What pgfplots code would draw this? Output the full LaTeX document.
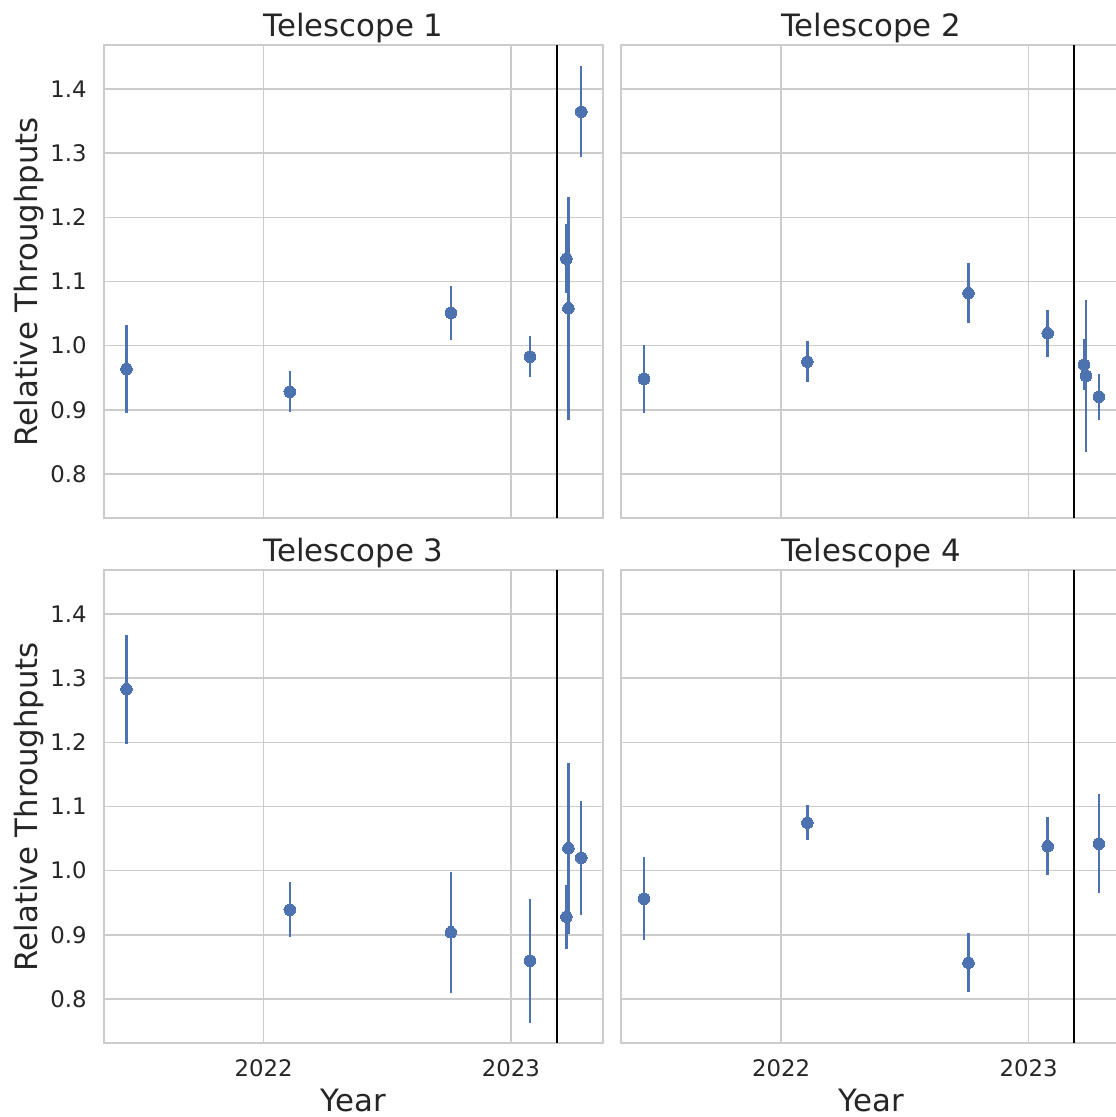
\documentclass[border=0pt]{standalone}
\usepackage{fontspec}
\setmainfont{DejaVu Sans}
\usepackage{pgfplots}
\usepackage{pgfplotstable}
\pgfplotsset{compat=1.18}
\definecolor{sbblue}{HTML}{4C72B0}
\definecolor{txt}{HTML}{262626}
\definecolor{grd}{HTML}{CCCCCC}
\newcommand\ticksize{\fontsize{11.4}{13}\selectfont}
\newcommand\labsize{\fontsize{15.4}{18}\selectfont}

\pgfplotstableread{
x y e
2021.446 0.9635 0.069
2022.106 0.9281 0.032
2022.757 1.0508 0.042
2023.077 0.9827 0.032
2023.224 1.1355 0.054
2023.232 1.0581 0.174
2023.284 1.3646 0.071
}\tone
\pgfplotstableread{
x y e
2021.446 0.9480 0.053
2022.106 0.9750 0.032
2022.757 1.0815 0.047
2023.077 1.0192 0.037
2023.224 0.9702 0.040
2023.232 0.9526 0.118
2023.284 0.9203 0.036
}\ttwo
\pgfplotstableread{
x y e
2021.446 1.2826 0.085
2022.106 0.9390 0.043
2022.757 0.9038 0.094
2023.077 0.8595 0.097
2023.224 0.9281 0.050
2023.232 1.0348 0.1335
2023.284 1.0201 0.089
}\tthree
\pgfplotstableread{
x y e
2021.446 0.9562 0.065
2022.106 1.0747 0.0275
2022.757 0.8564 0.046
2023.077 1.0379 0.0455
2023.284 1.0419 0.0775
}\tfour

\pgfplotsset{
  every axis title shift=0pt,
  panel/.style={
    width=249.8pt, height=236.35pt, scale only axis,
    anchor=south west,
    xmin=2021.354, xmax=2023.373, ymin=0.7313, ymax=1.4681,
    xtick={2022,2023}, ytick={0.8,0.9,1.0,1.1,1.2,1.3,1.4},
    xticklabels={,}, yticklabels={,,,,,,},
    grid=major, major grid style={grd, line width=0.75pt},
    axis line style={grd, line width=0.9pt},
    major tick length=0pt, tick style={draw=none},
    tick label style={font=\ticksize, text=txt, inner sep=0pt},
    yticklabel style={anchor=east, xshift=-8.3pt},
    xticklabel style={anchor=north, yshift=-7.9pt},
    /pgf/number format/assume math mode=true,
    title style={font=\labsize, text=txt, at={(axis description cs:0.5,1.0178)}, anchor=base, inner sep=0pt},
    xlabel style={font=\labsize, text=txt, at={(axis description cs:0.5,-0.1442)}, anchor=base, inner sep=0pt},
    ylabel style={font=\labsize, text=txt, at={(axis description cs:-0.1335,0.5)}, anchor=base, inner sep=0pt},
    clip=true,
  },
  leftp/.style={yticklabels={0.8,0.9,1.0,1.1,1.2,1.3,1.4}, ylabel={Relative Throughputs}},
  bottomp/.style={xticklabels={2022,2023}, xlabel={Year}},
  pts/.style={only marks, mark=*, mark size=2.9pt, color=sbblue,
    mark options={fill=sbblue, draw=sbblue, line width=0pt},
    error bars/.cd, y dir=both, y explicit, error mark=none,
    error bar style={line width=1.2pt, sbblue}},
  vl/.style={black, line width=0.9pt, no marks},
}

\begin{document}
\begin{tikzpicture}
\useasboundingbox (0,0) rectangle (557.5pt,558.5pt);
\begin{axis}[panel, leftp, at={(51.85pt,299.5pt)}, title={Telescope 1}]
  \addplot[vl] coordinates {(2023.185,0.7) (2023.185,1.5)};
  \addplot[pts] table[x=x, y=y, y error=e] {\tone};
\end{axis}
\begin{axis}[panel, at={(310.65pt,299.5pt)}, title={Telescope 2}]
  \addplot[vl] coordinates {(2023.185,0.7) (2023.185,1.5)};
  \addplot[pts] table[x=x, y=y, y error=e] {\ttwo};
\end{axis}
\begin{axis}[panel, leftp, bottomp, at={(51.85pt,37pt)}, title={Telescope 3}]
  \addplot[vl] coordinates {(2023.185,0.7) (2023.185,1.5)};
  \addplot[pts] table[x=x, y=y, y error=e] {\tthree};
\end{axis}
\begin{axis}[panel, bottomp, at={(310.65pt,37pt)}, title={Telescope 4}]
  \addplot[vl] coordinates {(2023.185,0.7) (2023.185,1.5)};
  \addplot[pts] table[x=x, y=y, y error=e] {\tfour};
\end{axis}
\end{tikzpicture}
\end{document}
